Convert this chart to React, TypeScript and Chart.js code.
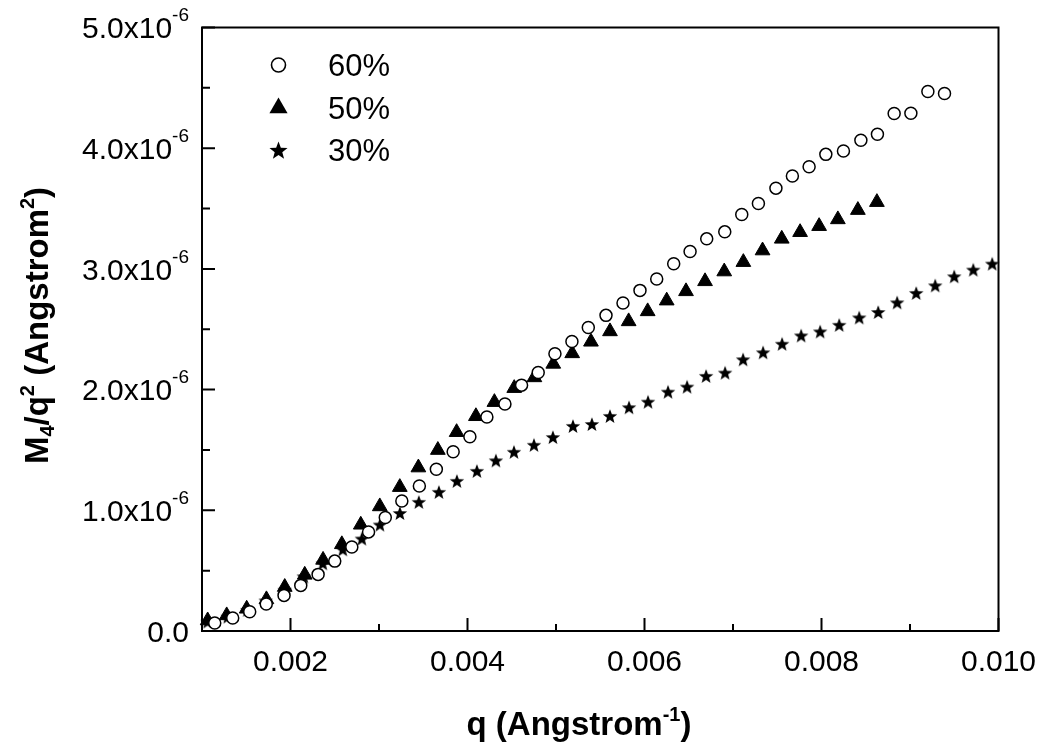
import React, { useEffect, useRef } from "react";
import { Chart, registerables } from "chart.js";

Chart.register(...registerables);

// q (Angstrom^-1)
const q60 = [0.001144, 0.001347, 0.001539, 0.001726, 0.001927, 0.002116, 0.002312, 0.0025, 0.002693, 0.002882, 0.003071, 0.003258, 0.003456, 0.003648, 0.003838, 0.004027, 0.004219, 0.004423, 0.004611, 0.004799, 0.004988, 0.00518, 0.005365, 0.005565, 0.005757, 0.005949, 0.006138, 0.00633, 0.006515, 0.006703, 0.006907, 0.007099, 0.007287, 0.007485, 0.007671, 0.00786, 0.008049, 0.008248, 0.008445, 0.008632, 0.008821, 0.00901, 0.009202, 0.00939];
// M4/q^2 in units of 1e-6 Angstrom^2
const m60 = [0.066, 0.108, 0.159, 0.223, 0.295, 0.378, 0.469, 0.579, 0.696, 0.821, 0.94, 1.077, 1.202, 1.34, 1.485, 1.61, 1.773, 1.881, 2.037, 2.141, 2.297, 2.399, 2.515, 2.615, 2.718, 2.822, 2.917, 3.042, 3.144, 3.249, 3.307, 3.451, 3.542, 3.669, 3.769, 3.847, 3.949, 3.977, 4.066, 4.116, 4.288, 4.29, 4.47, 4.453];

const q50 = [0.001064, 0.001279, 0.001505, 0.001728, 0.001935, 0.002161, 0.002368, 0.00258, 0.002794, 0.003009, 0.003235, 0.003445, 0.003665, 0.003877, 0.004095, 0.004304, 0.004528, 0.004756, 0.004969, 0.005183, 0.005395, 0.00561, 0.005821, 0.006036, 0.006251, 0.006469, 0.006684, 0.006901, 0.007117, 0.007334, 0.007551, 0.007758, 0.007973, 0.008185, 0.008411, 0.008626];
const m50 = [0.087, 0.129, 0.184, 0.262, 0.364, 0.465, 0.589, 0.718, 0.88, 1.032, 1.192, 1.354, 1.499, 1.647, 1.779, 1.896, 2.012, 2.101, 2.213, 2.3, 2.396, 2.482, 2.565, 2.648, 2.737, 2.814, 2.897, 2.978, 3.056, 3.152, 3.249, 3.304, 3.354, 3.41, 3.487, 3.553];

const q30 = [0.001064, 0.001291, 0.001513, 0.00172, 0.001935, 0.00215, 0.002365, 0.002591, 0.002806, 0.00301, 0.003236, 0.00345, 0.003677, 0.00388, 0.004106, 0.004321, 0.004525, 0.004751, 0.004965, 0.005192, 0.005406, 0.00561, 0.005825, 0.00604, 0.006266, 0.006481, 0.006696, 0.006911, 0.007114, 0.00734, 0.007555, 0.00777, 0.007985, 0.0082, 0.008426, 0.008641, 0.008855, 0.00907, 0.009285, 0.0095, 0.009715, 0.009929];
const m30 = [0.079, 0.12, 0.176, 0.253, 0.342, 0.453, 0.561, 0.677, 0.766, 0.882, 0.978, 1.07, 1.153, 1.244, 1.327, 1.414, 1.485, 1.543, 1.607, 1.699, 1.715, 1.782, 1.854, 1.9, 1.983, 2.025, 2.114, 2.141, 2.251, 2.309, 2.38, 2.449, 2.482, 2.537, 2.598, 2.643, 2.723, 2.801, 2.864, 2.939, 2.994, 3.044];

const seriesLabels = ["60%", "50%", "30%"];

const xMajorTicks = [0.002, 0.004, 0.006, 0.008, 0.01];
const xTickLabels = ["0.002", "0.004", "0.006", "0.008", "0.010"];
const xMinorTicks = [0.003, 0.005, 0.007, 0.009];
const yMajorTicks = [0, 1, 2, 3, 4, 5];
const yTickMantissa = ["0.0", "1.0x10", "2.0x10", "3.0x10", "4.0x10", "5.0x10"];
const yTickExponent = ["", "-6", "-6", "-6", "-6", "-6"];
const yMinorTicks = [0.5, 1.5, 2.5, 3.5, 4.5];

const FONT = '"Liberation Sans", Arial, Helvetica, sans-serif';

type Part = { t: string; size: number; bold?: boolean; dy?: number };

function fontOf(p: Part) {
  return `${p.bold ? "bold " : ""}${p.size}px ${FONT}`;
}

function richWidth(ctx: CanvasRenderingContext2D, parts: Part[]) {
  let w = 0;
  for (const p of parts) {
    ctx.font = fontOf(p);
    w += ctx.measureText(p.t).width;
  }
  return w;
}

function drawRich(ctx: CanvasRenderingContext2D, parts: Part[], x: number, y: number, align: "left" | "center" | "right") {
  const w = richWidth(ctx, parts);
  let cx = align === "left" ? x : align === "center" ? x - w / 2 : x - w;
  ctx.textAlign = "left";
  ctx.textBaseline = "alphabetic";
  for (const p of parts) {
    ctx.font = fontOf(p);
    ctx.fillText(p.t, cx, y + (p.dy || 0));
    cx += ctx.measureText(p.t).width;
  }
}

function makeStar(R: number, inner: number) {
  const c = document.createElement("canvas");
  const s = Math.ceil(2 * R + 2);
  c.width = s;
  c.height = s;
  const g = c.getContext("2d")!;
  drawStarPath(g, s / 2, s / 2 + R * 0.1, R, inner);
  g.fillStyle = "#000";
  g.fill();
  return c;
}

function drawStarPath(g: CanvasRenderingContext2D, cx: number, cy: number, R: number, inner: number) {
  g.beginPath();
  for (let i = 0; i < 10; i++) {
    const r = i % 2 === 0 ? R : R * inner;
    const a = -Math.PI / 2 + (i * Math.PI) / 5;
    const px = cx + r * Math.cos(a);
    const py = cy + r * Math.sin(a);
    if (i === 0) g.moveTo(px, py);
    else g.lineTo(px, py);
  }
  g.closePath();
}

const decorPlugin = {
  id: "decor",
  afterDraw(chart: any) {
    const ctx: CanvasRenderingContext2D = chart.ctx;
    const xs = chart.scales.x;
    const ys = chart.scales.y;
    const a = chart.chartArea;
    ctx.save();
    ctx.strokeStyle = "#000";
    ctx.fillStyle = "#000";
    ctx.lineWidth = 2;
    // frame
    ctx.strokeRect(a.left, a.top, a.right - a.left, a.bottom - a.top);
    // x ticks (inward)
    ctx.beginPath();
    for (const v of xMajorTicks) {
      const px = xs.getPixelForValue(v);
      ctx.moveTo(px, a.bottom);
      ctx.lineTo(px, a.bottom - 13);
    }
    for (const v of xMinorTicks) {
      const px = xs.getPixelForValue(v);
      ctx.moveTo(px, a.bottom);
      ctx.lineTo(px, a.bottom - 7);
    }
    for (const v of yMajorTicks) {
      const py = ys.getPixelForValue(v);
      ctx.moveTo(a.left, py);
      ctx.lineTo(a.left + 13, py);
    }
    for (const v of yMinorTicks) {
      const py = ys.getPixelForValue(v);
      ctx.moveTo(a.left, py);
      ctx.lineTo(a.left + 8, py);
    }
    ctx.stroke();

    // x tick labels
    xMajorTicks.forEach((v, i) => {
      const px = xs.getPixelForValue(v);
      drawRich(ctx, [{ t: xTickLabels[i], size: 30 }], px, 671, "center");
    });
    // y tick labels
    yMajorTicks.forEach((v, i) => {
      const py = ys.getPixelForValue(v);
      const parts: Part[] = [{ t: yTickMantissa[i], size: 30 }];
      if (yTickExponent[i]) parts.push({ t: yTickExponent[i], size: 19, dy: -17 });
      drawRich(ctx, parts, 189, py + 10.7, "right");
    });

    // x title
    drawRich(
      ctx,
      [
        { t: "q (Angstrom", size: 33, bold: true },
        { t: "-1", size: 20, bold: true, dy: -14 },
        { t: ")", size: 33, bold: true },
      ],
      579,
      735,
      "center"
    );

    // y title
    ctx.save();
    ctx.translate(48, 325.5);
    ctx.rotate(-Math.PI / 2);
    drawRich(
      ctx,
      [
        { t: "M", size: 33, bold: true },
        { t: "4", size: 20, bold: true, dy: 6 },
        { t: "/q", size: 33, bold: true },
        { t: "2", size: 20, bold: true, dy: -14 },
        { t: " (Angstrom", size: 33, bold: true },
        { t: "2", size: 20, bold: true, dy: -14 },
        { t: ")", size: 33, bold: true },
      ],
      0,
      0,
      "center"
    );
    ctx.restore();

    // legend
    const lx = 278.5;
    const rows = [65, 108, 150];
    // circle
    ctx.lineWidth = 1.6;
    ctx.beginPath();
    ctx.arc(lx, rows[0], 7, 0, Math.PI * 2);
    ctx.fillStyle = "#fff";
    ctx.fill();
    ctx.stroke();
    ctx.fillStyle = "#000";
    // triangle
    const tr = 10.5;
    ctx.beginPath();
    ctx.moveTo(lx, rows[1] - tr);
    ctx.lineTo(lx + tr * Math.sin((2 * Math.PI) / 3), rows[1] + tr / 2);
    ctx.lineTo(lx - tr * Math.sin((2 * Math.PI) / 3), rows[1] + tr / 2);
    ctx.closePath();
    ctx.fill();
    // star
    drawStarPath(ctx, lx, rows[2] + 1, 9.5, 0.42);
    ctx.fill();
    seriesLabels.forEach((s, i) => {
      drawRich(ctx, [{ t: s, size: 31 }], 328, rows[i] + 11, "left");
    });
    ctx.restore();
  },
};

export default function App() {
  const ref = useRef<HTMLCanvasElement | null>(null);
  useEffect(() => {
    if (!ref.current) return;
    const star = makeStar(7.6, 0.42);
    const chart = new Chart(ref.current, {
      type: "scatter",
      data: {
        datasets: [
          {
            label: seriesLabels[0],
            data: q60.map((x, i) => ({ x, y: m60[i] })),
            pointStyle: "circle",
            pointRadius: 6,
            pointHoverRadius: 6,
            borderWidth: 1.5,
            borderColor: "#000",
            backgroundColor: "#fff",
            clip: false,
          },
          {
            label: seriesLabels[1],
            data: q50.map((x, i) => ({ x, y: m50[i] })),
            pointStyle: "triangle",
            pointRadius: 8.5,
            pointHoverRadius: 8.5,
            borderWidth: 1,
            borderColor: "#000",
            backgroundColor: "#000",
            clip: false,
          },
          {
            label: seriesLabels[2],
            data: q30.map((x, i) => ({ x, y: m30[i] })),
            pointStyle: star as any,
            pointRadius: 7.6,
            pointHoverRadius: 7.6,
            borderWidth: 0,
            borderColor: "#000",
            backgroundColor: "#000",
            clip: false,
          },
        ],
      },
      options: {
        responsive: false,
        animation: false,
        devicePixelRatio: 1,
        events: [],
        layout: { padding: { left: 0, right: 1045 - 998.5, top: 27.5, bottom: 0 } },
        plugins: { legend: { display: false }, tooltip: { enabled: false } },
        scales: {
          x: {
            type: "linear",
            min: 0.001,
            max: 0.01,
            ticks: { display: false },
            grid: { display: false },
            border: { display: false },
            afterFit: (s: any) => {
              s.height = 744 - 631;
            },
          },
          y: {
            type: "linear",
            min: 0,
            max: 5,
            ticks: { display: false },
            grid: { display: false },
            border: { display: false },
            afterFit: (s: any) => {
              s.width = 202;
            },
          },
        },
      },
      plugins: [decorPlugin],
    });
    return () => chart.destroy();
  }, []);
  return (
    <div style={{ position: "absolute", left: 0, top: 0, width: 1045, height: 744, background: "#fff" }}>
      <canvas ref={ref} width={1045} height={744} style={{ display: "block" }} />
    </div>
  );
}
